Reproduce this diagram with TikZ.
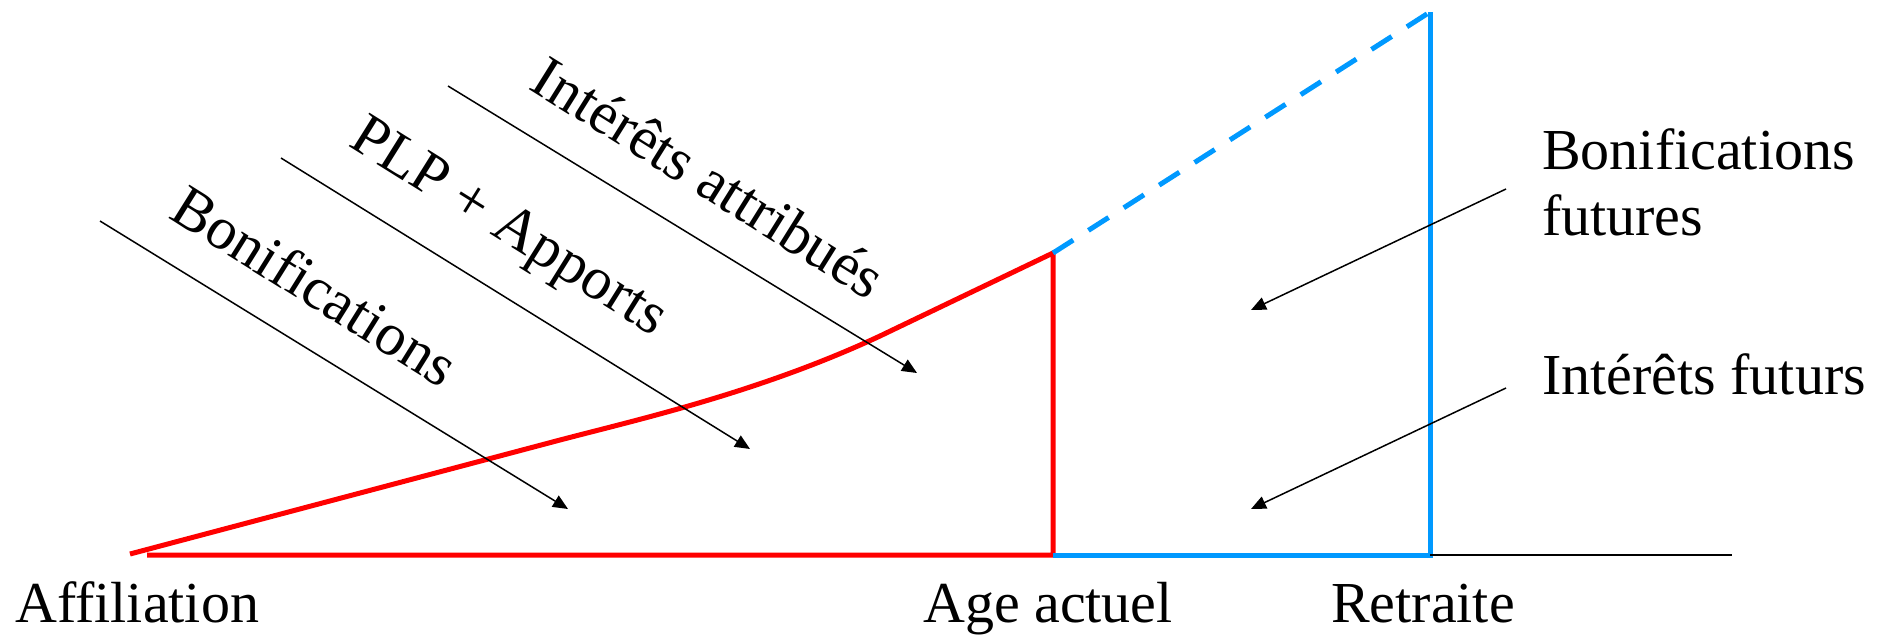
\documentclass[tikz,border=0pt]{standalone}
\usepackage{fontspec}
\setmainfont{Liberation Serif}
\usetikzlibrary{arrows.meta}
\definecolor{myred}{RGB}{255,0,0}
\definecolor{myblue}{RGB}{0,153,255}
\tikzset{
  redline/.style={draw=myred, line width=5pt, line join=miter},
  blueline/.style={draw=myblue, line width=5pt},
  bluedash/.style={draw=myblue, line width=5pt, dash pattern=on 24pt off 18pt},
  thinline/.style={draw=black, line width=1.5pt},
  pointer/.style={draw=black, line width=1.5pt, -{Triangle[length=15pt,width=13pt]}},
  lbl/.style={font=\fontsize{58}{66}\selectfont, inner sep=0pt, anchor=base west},
  rlbl/.style={font=\fontsize{60}{66}\selectfont, inner sep=0pt, text height=0.68em, text depth=0pt, anchor=center, rotate=-32}
}
\begin{document}
\begin{tikzpicture}[x=1pt,y=-1pt]
\useasboundingbox (0,0) rectangle (1889,635);
% key points
\coordinate (start) at (130,554);
\coordinate (base0) at (147,555);
\coordinate (age) at (1053,555);
\coordinate (agetop) at (1053,253);
\coordinate (ret) at (1430,555);
\coordinate (rettop) at (1430,12);
\coordinate (axend) at (1732,555);
% red curve and area
\draw[redline] (start) -- (560,440) .. controls (640,419) and (760,392) .. (880,336) -- (agetop) -- (age) -- (base0);
% blue part
\draw[bluedash] (agetop) -- (rettop);
\draw[blueline] (age) -- (ret) -- (rettop);
\draw[thinline] (ret) -- (axend);
% arrow coordinates
\coordinate (s1) at (100,221); \coordinate (e1) at (568,509);
\coordinate (s2) at (281,158); \coordinate (e2) at (750,449);
\coordinate (s3) at (448,86);  \coordinate (e3) at (917,373);
\coordinate (s4) at (1506,189); \coordinate (e4) at (1251,310);
\coordinate (s5) at (1506,388); \coordinate (e5) at (1251,509);
\draw[pointer] (s1) -- (e1);
\draw[pointer] (s2) -- (e2);
\draw[pointer] (s3) -- (e3);
\draw[pointer] (s4) -- (e4);
\draw[pointer] (s5) -- (e5);
% rotated labels
\node[rlbl] (lbon) at (306,300) {Bonifications};
\node[rlbl] (lplp) at (502,238) {PLP + Apports};
\node[rlbl] (lint) at (700,192) {Intérêts attribués};
% horizontal labels
\node[lbl] (laff) at (15,622) {Affiliation};
\node[lbl] (lage) at (923,622) {Age actuel};
\node[lbl] (lret) at (1331,622) {Retraite};
\node[lbl] (lbf1) at (1542,169) {Bonifications};
\node[lbl] (lbf2) at (1542,235) {futures};
\node[lbl] (lif) at (1542,394) {Intérêts futurs};
\end{tikzpicture}
\end{document}
